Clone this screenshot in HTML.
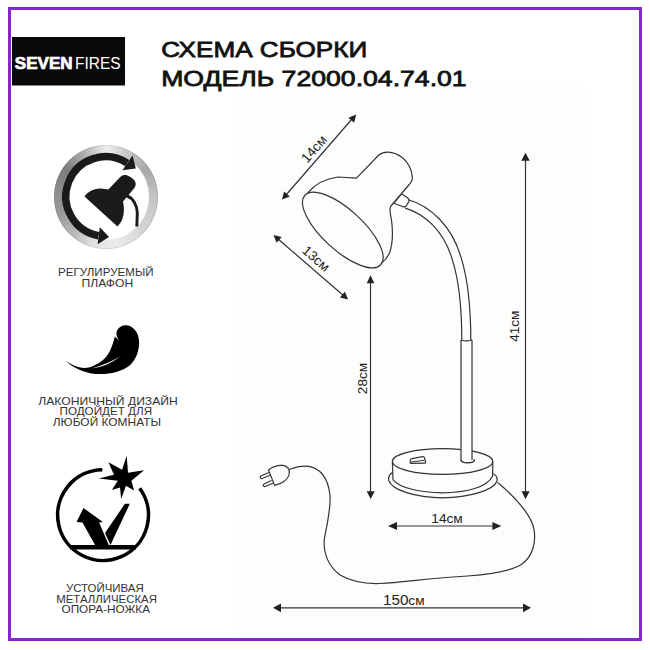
<!DOCTYPE html>
<html><head><meta charset="utf-8">
<style>
html,body{margin:0;padding:0;width:650px;height:650px;overflow:hidden;background:#fff;}
body{position:relative;font-family:"Liberation Sans",sans-serif;}
.frame{position:absolute;left:8px;top:7px;width:628px;height:628px;border:3px solid #8526d2;}
.ring{position:absolute;left:53.5px;top:144.5px;width:104px;height:104px;border-radius:50%;
 background:conic-gradient(from 0deg,#eeeeee 0deg,#c2c2c2 30deg,#a8a8a8 55deg,#c4c4c4 90deg,#d4d4d4 130deg,#ececec 168deg,#e2e2e2 195deg,#b8b8b8 222deg,#9a9a9a 250deg,#8e8e8e 275deg,#7c7c7c 305deg,#b4b4b4 335deg,#eeeeee 360deg);box-shadow:inset 0 0 0 0.8px rgba(0,0,0,0.12);}
svg{position:absolute;left:0;top:0;}
</style></head><body>
<div class="frame"></div>
<div class="ring"></div>
<svg width="650" height="650" viewBox="0 0 650 650">
 <rect x="238" y="85" width="348" height="553" fill="#fdfdfd"/>
 <!-- logo -->
 <rect x="12" y="37" width="113" height="48.5" fill="#0a0a0a"/>
 <text x="14.8" y="69.2" font-family="Liberation Sans" font-weight="bold" font-size="15.6" fill="#fff" stroke="#fff" stroke-width="0.7" textLength="57.8" lengthAdjust="spacingAndGlyphs">SEVEN</text>
 <text x="75" y="69.2" font-family="Liberation Sans" font-size="15.6" fill="#fff" textLength="45.5" lengthAdjust="spacingAndGlyphs">FIRES</text>

 <!-- title -->
 <text x="161.2" y="57.2" font-family="Liberation Sans" font-size="22.6" fill="#111" stroke="#111" stroke-width="0.8" textLength="206" lengthAdjust="spacingAndGlyphs">СХЕМА СБОРКИ</text>
 <text x="161.2" y="85.6" font-family="Liberation Sans" font-size="22" fill="#111" stroke="#111" stroke-width="0.8" textLength="305.5" lengthAdjust="spacingAndGlyphs">МОДЕЛЬ 72000.04.74.01</text>

 <!-- icon 1 -->
 <circle cx="105.5" cy="196.5" r="43.6" fill="#fff"/>
 <path d="M98.6 235.7 A39.8 39.8 0 1 1 127.2 163.1" fill="none" stroke="#1a1a1a" stroke-width="7.5"/>
 <polygon points="132.6,155.6 135.8,168.4 122.4,170.2" fill="#1a1a1a"/>
 <polygon points="99.8,227.2 109,236.9 97.6,244.2" fill="#1a1a1a"/>
 <path d="M84.5 196.5 C88 191,95 188.3,101 188.5 L108.3 189.6 L120.3 177 C121.8 175.2,123.8 174.6,126 175 C129.5 176,132.5 178,134.5 180.5 C136.2 182.8,136 186,134.4 187.9 L123 201.5 C125 211,124 220,117.5 226.5 Z" fill="#1a1a1a"/>
 <path d="M127 196 C133 198,137 205,137.3 213 L136.8 226.5" fill="none" stroke="#1a1a1a" stroke-width="2.9"/>
 <text x="58" y="276.3" font-family="Liberation Sans" font-size="10.9" fill="#333" textLength="95.5" lengthAdjust="spacingAndGlyphs">РЕГУЛИРУЕМЫЙ</text>
 <text x="81.5" y="287.4" font-family="Liberation Sans" font-size="10.9" fill="#333" textLength="51.7" lengthAdjust="spacingAndGlyphs">ПЛАФОН</text>

 <!-- icon 2 feather -->
 <path d="M65.9 360.8 C72 367,82 372.5,95 373.9 C108 375,121 372,129 366 C136 360.5,139.5 350,139.1 341.2 C138.5 331,132 325,125.4 325.2 C120 325.5,116.5 329.5,116.5 333.5 C116.5 337.5,119.5 341,119.5 341 L114.9 336.6 C113 344,111 350,107.5 355 C103 361,97 365,89 367.5 C80 369.5,72 365,65.9 360.8 Z" fill="#000"/>
 <path d="M92 368.4 Q107 367 120.8 356.1 Q108 364 92 368.4 Z" fill="#fff"/>
 <text x="38.3" y="404.5" font-family="Liberation Sans" font-size="10.6" fill="#333" textLength="139.5" lengthAdjust="spacingAndGlyphs">ЛАКОНИЧНЫЙ ДИЗАЙН</text>
 <text x="59.5" y="415.2" font-family="Liberation Sans" font-size="10.6" fill="#333" textLength="92.6" lengthAdjust="spacingAndGlyphs">ПОДОЙДЕТ ДЛЯ</text>
 <text x="52.8" y="426.1" font-family="Liberation Sans" font-size="10.6" fill="#333" textLength="108.2" lengthAdjust="spacingAndGlyphs">ЛЮБОЙ КОМНАТЫ</text>

 <!-- icon 3 -->
 <path d="M102.3 469.7 A45.4 45.4 0 1 0 139.7 488.3" fill="none" stroke="#000" stroke-width="3.6"/>
 <line x1="70" y1="547.3" x2="136" y2="547.3" stroke="#000" stroke-width="4.4"/>
 <polygon points="126.7,455.8 128,472.7 144.1,470.2 131.4,480.8 134.1,490.5 125.9,485.8 121.2,499 120,487.5 111.9,490.1 117.8,480.8 98.8,478.6 114,474.8 108.4,462.2 122.1,469.8" fill="#000"/>
 <polygon points="83.5,508.1 102.8,522.1 99.1,522.6 108.8,545 95.3,545.2 82.4,522.6 76.5,522.1" fill="#000"/>
 <polygon points="124.9,503.8 129.8,503.8 110.5,545 105,533" fill="#000"/>
 <text x="65.9" y="592.2" font-family="Liberation Sans" font-size="10.2" fill="#333" textLength="77.9" lengthAdjust="spacingAndGlyphs">УСТОЙЧИВАЯ</text>
 <text x="56.2" y="602.8" font-family="Liberation Sans" font-size="10.2" fill="#333" textLength="100.8" lengthAdjust="spacingAndGlyphs">МЕТАЛЛИЧЕСКАЯ</text>
 <text x="61.5" y="613.4" font-family="Liberation Sans" font-size="10.2" fill="#333" textLength="88.5" lengthAdjust="spacingAndGlyphs">ОПОРА-НОЖКА</text>

 <!-- diagram -->
 <g fill="none" stroke="#333" stroke-width="1.2">
  <!-- dimension lines -->
  <line x1="286" y1="195" x2="352" y2="119"/>
  <line x1="277.5" y1="238.5" x2="344" y2="296"/>
  <line x1="370.5" y1="282" x2="370.5" y2="492"/>
  <line x1="525.5" y1="160" x2="525.5" y2="492"/>
  <line x1="395" y1="526" x2="494" y2="526"/>
  <line x1="280" y1="607.8" x2="524" y2="607.8"/>
 </g>
 <g fill="#222">
  <polygon points="356.2,114.5 354.14,122.66 348.4,117.66"/>
  <polygon points="282,199.6 289.8,196.45 284.06,191.45"/>
  <polygon points="273.5,235 276.68,242.78 281.66,237.04"/>
  <polygon points="348.1,299.6 339.94,297.56 344.92,291.82"/>
  <polygon points="370.5,275.2 366.7,283.2 374.3,283.2"/>
  <polygon points="370.7,498.9 366.7,491.2 374.7,491.2"/>
  <polygon points="525.5,152.8 521.3,160.8 529.7,160.8"/>
  <polygon points="525.5,499.3 521.6,491.2 529.6,491.2"/>
  <polygon points="388,526 397,522 397,530"/>
  <polygon points="501.4,526 492.4,522 492.4,530"/>
  <polygon points="273,607.8 281,603.5 281,612.2"/>
  <polygon points="531,607.8 523,603.5 523,612.2"/>
 </g>
 <g font-family="Liberation Sans" font-size="13.6" fill="#222">
  <text x="0" y="0" text-anchor="middle" transform="translate(317.5,152) rotate(-49)">14см</text>
  <text x="0" y="0" text-anchor="middle" transform="translate(313,262) rotate(41)">13см</text>
  <text x="0" y="0" text-anchor="middle" transform="translate(366.5,378.5) rotate(-90)">28см</text>
  <text x="0" y="0" text-anchor="middle" transform="translate(518.5,326.2) rotate(-90)">41см</text>
  <text x="447" y="522.6" text-anchor="middle">14см</text>
  <text x="383" y="604.8"><tspan font-size="15.2">150</tspan>см</text>
 </g>

 <!-- lamp drawing -->
 <g fill="none" stroke="#333" stroke-width="1.2" stroke-linejoin="round">
  <!-- shade ellipse -->
  <ellipse cx="342.8" cy="230" rx="51.4" ry="20.2" transform="rotate(42.5 342.8 230)"/>
  <!-- shade outer -->
  <path d="M307.6 193.2 C313 186.5,322 179,338 177 L356.5 178.2 L378.8 155 C383 151.5,392 150,401.9 157.3 C408 162,412 170,412.3 176.9 C412.5 180,411 183,408.8 185 L390.6 206.5 C389 209,390 212,391.5 220 C393 232,392.5 245,389.5 253 C387.5 257.5,385 260.5,381.8 262.8"/>
  <!-- gooseneck -->
  <path d="M406.5 203.8 C428 210,448 229,456.5 258 C463 278,466.3 305,466.3 341" stroke-width="10.2"/>
  <path d="M406.5 203.8 C428 210,448 229,456.5 258 C463 278,466.3 305,466.3 341" stroke="#fff" stroke-width="7.8"/>
  <!-- joint -->
  <path d="M393.9 203.2 L401.6 193.9 L406.8 197.2 Q409.9 199.3 408.9 201.6 L406.2 205.8 Q405.1 207.3 403 206.7 Z" fill="#fff"/>
  <!-- rigid tube -->
  <!-- base -->
  <ellipse cx="442.6" cy="461.5" rx="50.2" ry="12.8"/>
  <rect x="461" y="340" width="11" height="120.5" fill="#fff" stroke="none"/>
  <path d="M461 340 L461 460 M472 340 L472 460 M461 340 Q466.5 341.8 472 340"/>
  <path d="M461 459.3 C460.5 461.5,463 462.8,467.7 462.8 C472.5 462.8,475 461.5,474.3 459.3" stroke-width="1.5"/>
  <path d="M392.4 461.5 L393 479.8 C400 488,420 492.5,442.6 492.8 C465 492.5,487 488,492.6 476 L492.8 462.6"/>
  <path d="M392.8 472.4 C389.8 473.8,388.3 477,388.7 480.5 C392 490,415 497.5,442.6 497.8 C470 497.5,494 490,497 481 C497.5 478,496 475,493.3 474"/>
  <!-- switch -->
  <path d="M410.3 460.2 Q410.5 458.8 412 458.6 L422.5 456.6 Q424 456.3 424.5 457.8 L425.6 461.8 Q425.8 463.1 424.5 463.1 L411.5 463.3 Q410.1 463.3 410.2 462 Z"/>
  <path d="M411 462.1 L424.6 460.2" stroke-width="1"/>
  <!-- cord -->
  <path d="M289.2 469.5 C296 466.8,303 465.5,309 466.3 C320 468.5,328 478,330 495 C331 508,327 525,324.5 538 C322.5 552,328 566,340 575 C352 582,365 584,380 583.5 C405 582,430 578,467.7 576 C490 574.5,510 572,522 564 C533 556,536 542,534.1 529.8 C532.5 518,519 500,497.6 482.5"/>
  <!-- plug -->
  <path d="M268.5 470 C272 467,278 465,283 465.4 C288 466,290 470,289.2 474 C288 480,281 484,274.6 485.4 Z"/>
  <path d="M268.8 472.5 L261 476 C259.5 477,260.5 479,262 478.5 L270.3 475.3"/>
  <path d="M271.5 480.5 L264 484 C262.5 485,263.5 487,265 486.5 L273 483.3"/>
 </g>
</svg>
</body></html>
